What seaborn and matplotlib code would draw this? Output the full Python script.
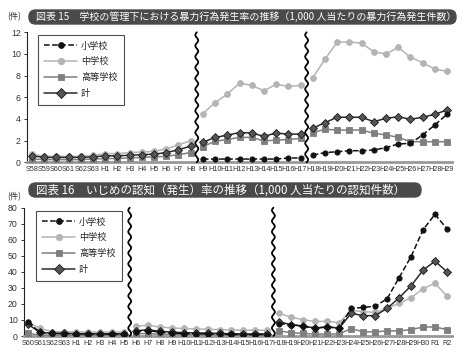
import numpy as np
import pandas as pd
import matplotlib
matplotlib.use("Agg")
import matplotlib.pyplot as plt
import seaborn as sns
from matplotlib.lines import Line2D
from matplotlib.patches import FancyBboxPatch

# --- data: chart 15 (violence rate per 1,000 students) ---
top_labels = ["S58", "S59", "S60", "S61", "S62", "S63", "H1", "H2", "H3", "H4", "H5",
              "H6", "H7", "H8", "H9", "H10", "H11", "H12", "H13", "H14", "H15", "H16",
              "H17", "H18", "H19", "H20", "H21", "H22", "H23", "H24", "H25", "H26",
              "H27", "H28", "H29"]
nan = np.nan
top_elem = [nan] * 14 + [0.3, 0.3, 0.3, 0.3, 0.3, 0.3, 0.3, 0.4, 0.4,
                         0.67, 0.89, 0.98, 1.07, 1.07, 1.14, 1.35, 1.69, 1.75, 2.52, 3.44, 4.43]
top_mid = [0.75, 0.55, 0.55, 0.55, 0.55, 0.65, 0.8, 0.8, 0.9, 0.95, 1.0, 1.25, 1.6, 2.0,
           4.5, 5.5, 6.3, 7.3, 7.1, 6.6, 7.2, 7.0, 7.1,
           7.8, 9.5, 11.1, 11.1, 11.0, 10.2, 10.0, 10.6, 9.7, 9.2, 8.6, 8.4]
top_high = [0.3, 0.25, 0.25, 0.25, 0.25, 0.3, 0.35, 0.35, 0.4, 0.45, 0.5, 0.55, 0.7, 0.9,
            1.44, 1.95, 2.1, 2.3, 2.3, 1.97, 2.05, 2.1, 2.2,
            2.73, 3.05, 2.98, 2.98, 2.98, 2.68, 2.52, 2.31, 1.9, 1.9, 1.9, 1.9]
top_total = [0.6, 0.45, 0.45, 0.45, 0.45, 0.5, 0.6, 0.6, 0.65, 0.7, 0.75, 0.9, 1.15, 1.5,
             1.85, 2.3, 2.5, 2.75, 2.7, 2.4, 2.7, 2.6, 2.6,
             3.14, 3.66, 4.16, 4.16, 4.16, 3.75, 4.06, 4.21, 3.97, 4.16, 4.43, 4.83]
top_breaks = [13.5, 22.5]

# --- data: chart 16 (bullying rate per 1,000 students) ---
bot_labels = ["S60", "S61", "S62", "S63", "H1", "H2", "H3", "H4", "H5", "H6", "H7",
              "H8", "H9", "H10", "H11", "H12", "H13", "H14", "H15", "H16", "H17",
              "H18", "H19", "H20", "H21", "H22", "H23", "H24", "H25", "H26", "H27",
              "H28", "H29", "H30", "R1", "R2"]
bot_elem = [8.7, 2.2, 1.6, 1.5, 1.4, 1.3, 1.2, 1.2, 1.2,
            2.8, 3.4, 2.4, 1.8, 1.5, 1.4, 1.3, 1.1, 1.0, 0.9, 0.9, 0.9,
            7.7, 7.1, 6.1, 5.0, 5.6, 5.0, 17.2, 17.8, 18.6, 23.2, 36.4, 49.5, 66.2, 75.9, 66.8]
bot_mid = [8.8, 4.7, 2.8, 2.6, 2.6, 2.5, 2.4, 2.4, 2.5,
           6.1, 6.7, 5.6, 5.0, 4.7, 4.4, 4.2, 4.0, 3.8, 3.6, 3.6, 3.6,
           14.1, 11.7, 10.1, 9.1, 9.1, 8.3, 16.0, 15.2, 14.7, 17.2, 20.4, 23.8, 29.5, 32.9, 24.8]
bot_high = [1.6, 0.6, 0.5, 0.5, 0.5, 0.4, 0.5, 0.5, 0.5,
            1.6, 1.4, 1.2, 1.0, 0.9, 0.8, 0.7, 0.6, 0.6, 0.6, 0.6, 0.6,
            3.2, 2.0, 1.6, 1.2, 1.2, 1.3, 4.6, 2.6, 2.6, 3.2, 3.2, 4.0, 5.6, 5.6, 4.0]
bot_total = [7.3, 2.3, 1.7, 1.6, 1.5, 1.4, 1.4, 1.4, 1.4,
             3.3, 3.8, 3.0, 2.4, 2.1, 1.9, 1.8, 1.6, 1.4, 1.3, 1.3, 1.3,
             8.7, 7.1, 6.1, 5.0, 5.6, 5.0, 14.1, 12.7, 12.7, 17.2, 23.8, 31.3, 41.0, 46.7, 40.0]
bot_breaks = [8.5, 20.5]

series_names = ["小学校", "中学校", "高等学校", "計"]
styles = {
    "中学校": dict(color="#b4b4b4", ls="-", marker="o", mfc="#b4b4b4", mec="#b4b4b4", ms=4.2),
    "高等学校": dict(color="#7f7f7f", ls="-", marker="s", mfc="#7f7f7f", mec="#7f7f7f", ms=4.2),
    "計": dict(color="#2b2b2b", ls="-", marker="D", mfc="#555555", mec="#1a1a1a", ms=4.2),
    "小学校": dict(color="#111111", ls="--", marker="o", mfc="#111111", mec="#111111", ms=3.8),
}
draw_order = ["中学校", "高等学校", "計", "小学校"]

sns.set_theme(style="white")
plt.rcParams["font.family"] = ["Noto Sans CJK JP", "DejaVu Sans"]

W, H = 472, 362
fig = plt.figure(figsize=(W / 100, H / 100), dpi=100)


def px_axes(left, top, right, bottom):
    return fig.add_axes([left / W, (H - bottom) / H, (right - left) / W, (bottom - top) / H])


def draw_chart(ax, labels, data, breaks, ymax, ystep, xlim):
    n = len(labels)
    edges = [-1] + breaks + [n]
    for name in draw_order:
        vals = np.array(data[name], dtype=float)
        st = styles[name]
        for a, b in zip(edges[:-1], edges[1:]):
            idx = [i for i in range(n) if a < i < b and not np.isnan(vals[i])]
            if not idx:
                continue
            df = pd.DataFrame({"x": idx, "y": vals[idx]})
            sns.lineplot(data=df, x="x", y="y", ax=ax, color=st["color"], linestyle=st["ls"],
                         lw=1.1, marker=st["marker"], markersize=st["ms"],
                         markerfacecolor=st["mfc"], markeredgecolor=st["mec"],
                         markeredgewidth=0.6, legend=False, zorder=3)
    # wavy break lines
    yy = np.linspace(0, ymax, 200)
    for bx in breaks:
        xx = bx + 0.12 * np.sin(yy / ymax * 2 * np.pi * 12)
        ax.plot(xx, yy, color="black", lw=1.3, zorder=5, clip_on=False)
    ax.set_xlim(*xlim)
    ax.set_ylim(0, ymax)
    ax.set_yticks(np.arange(0, ymax + 0.1, ystep))
    ax.set_xticks(range(n))
    ax.set_xticklabels(labels, fontsize=5.2, family="Liberation Sans", color="#333333")
    ax.tick_params(axis="y", labelsize=6.3, length=2.5, width=0.7, direction="out",
                   left=True, colors="#333333", pad=2)
    ax.tick_params(axis="x", length=0, pad=3)
    for t in ax.get_yticklabels():
        t.set_family("Liberation Sans")
    ax.set_xlabel("")
    ax.set_ylabel("")
    for s in ["top", "right"]:
        ax.spines[s].set_visible(False)
    ax.spines["left"].set_color("#222222")
    ax.spines["left"].set_linewidth(0.8)
    ax.spines["bottom"].set_color("#999999")
    ax.spines["bottom"].set_linewidth(2)
    ax.set_facecolor("white")


def legend(ax, x0, y0):
    handles = []
    for name in series_names:
        st = styles[name]
        handles.append(Line2D([], [], color=st["color"], ls=st["ls"], lw=1.1, marker=st["marker"],
                              ms=st["ms"] + 0.4, mfc=st["mfc"], mec=st["mec"], mew=0.6))
    lg = ax.legend(handles, series_names, loc="upper left",
                   bbox_to_anchor=(x0 / W, (H - y0) / H), bbox_transform=fig.transFigure,
                   fontsize=6.6, frameon=True, fancybox=False, edgecolor="#222222",
                   handlelength=3.6, handletextpad=0.4, labelspacing=0.75,
                   borderpad=0.7, borderaxespad=0)
    lg.get_frame().set_linewidth(0.8)


def title_box(x0, x1, y0, y1, text, fs):
    box = FancyBboxPatch((x0 / W, (H - y1) / H), (x1 - x0) / W, (y1 - y0) / H,
                         boxstyle="round,pad=0,rounding_size=0.014",
                         transform=fig.transFigure, facecolor="#4a4a4a",
                         edgecolor="#4a4a4a", mutation_aspect=W / H)
    fig.patches.append(box)
    fig.text((x0 + 7) / W, (H - (y0 + y1) / 2) / H, text, color="white", fontsize=fs,
             va="center", ha="left")


# chart 15
ax1 = px_axes(27, 32.3, 452, 162.3)
draw_chart(ax1, top_labels,
           {"小学校": top_elem, "中学校": top_mid, "高等学校": top_high, "計": top_total},
           top_breaks, 12, 2, (-0.41, 34.41))
legend(ax1, 38, 35)
title_box(29, 456, 10, 24,
          "図表 15　学校の管理下における暴力行為発生率の推移（1,000 人当たりの暴力行為発生件数）", 7.2)
fig.text(7 / W, (H - 17) / H, "(件)", fontsize=6, va="center", color="#333333")

# chart 16
ax2 = px_axes(24, 207.7, 452, 336)
draw_chart(ax2, bot_labels,
           {"小学校": bot_elem, "中学校": bot_mid, "高等学校": bot_high, "計": bot_total},
           bot_breaks, 80, 10, (-0.33, 35.42))
legend(ax2, 36, 211)
title_box(29, 421, 183, 197,
          "図表 16　いじめの認知（発生）率の推移（1,000 人当たりの認知件数）", 8.3)
fig.text(7 / W, (H - 197) / H, "(件)", fontsize=6, va="center", color="#333333")

fig.savefig("out.png", dpi=100, facecolor="white")
